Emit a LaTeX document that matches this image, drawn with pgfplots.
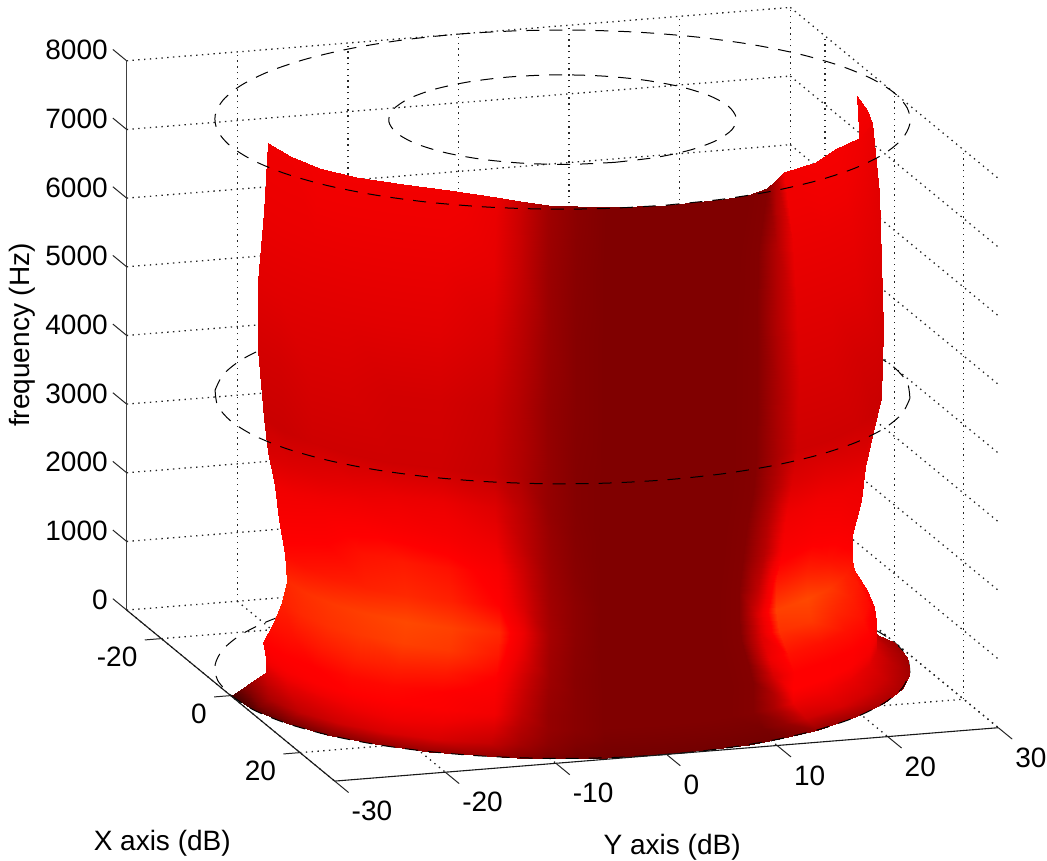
\documentclass[border=0pt]{standalone}
\usepackage{fontspec}
\setmainfont{Liberation Sans}
\usepackage{pgfplots}
\pgfplotsset{compat=1.18}
\begin{document}
\begin{tikzpicture}
\path[use as bounding box] (0,0) rectangle (1047pt,860pt);
\begin{axis}[
  at={(562.5pt,191.1pt)}, anchor=origin,
  x={(3.467pt,-2.85pt)}, y={(11.06pt,0.89pt)}, z={(0pt,0.06866pt)},
  xmin=-30,xmax=30,ymin=-30,ymax=30,zmin=0,zmax=8000,
  clip=false,
  xtick={-20,0,20}, xticklabels={-20,0,20},
  ytick={-30,-20,-10,0,10,20,30}, yticklabels={-30,-20,-10,0,10,20,30},
  ztick={0,1000,2000,3000,4000,5000,6000,7000,8000},
  zticklabels={0,1000,2000,3000,4000,5000,6000,7000,8000},
  scaled z ticks=false,
  major tick length=0pt,
  tick style={draw=none},
  axis line style={draw=none},
  grid=major,
  grid style={color=black!85,line width=1.3pt,dash pattern=on 1.4pt off 4.4pt},
  tick label style={font=\fontsize{28}{30}\selectfont,inner sep=0pt,outer sep=0pt},
  label style={font=\fontsize{28}{30}\selectfont},
  xticklabel style={anchor=east,xshift=-24pt,yshift=-18pt},
  yticklabel style={anchor=west,xshift=17pt,yshift=-30pt},
  zticklabel style={anchor=east,xshift=-19pt,yshift=10.7pt},
  xlabel={X axis (dB)}, ylabel={Y axis (dB)}, zlabel={frequency (Hz)},
  xlabel style={at={(axis cs:45.33,-50.4,0)},anchor=center,rotate=0,sloped=false},
  ylabel style={at={(axis cs:59.7,-8.8,0)},anchor=center,rotate=0,sloped=false},
  zlabel style={at={(axis cs:-60.2,-30,2752)},anchor=center,sloped=false},
  colormap={rimred}{rgb255(0)=(64,0,0); rgb255(20)=(128,0,0); rgb255(50)=(192,0,0); rgb255(70)=(240,0,0); rgb255(80)=(255,0,0); rgb255(90)=(255,40,0); rgb255(100)=(255,80,0)},
  point meta min=0, point meta max=100,
]
% rear arcs, behind the surface
\addplot3[data cs=polar,black,line width=1pt,dash pattern=on 13pt off 10pt,no markers,smooth] coordinates {
(70,30,4000)(80,30,4000)(90,30,4000)(100,30,4000)(110,30,4000)(120,30,4000)(130,30,4000)(140,30,4000)(150,30,4000)(160,30,4000)(170,30,4000)(180,30,4000)(190,30,4000)(200,30,4000)(210,30,4000)(220,30,4000)(230,30,4000)(240,30,4000)(250,30,4000)};
\addplot3[data cs=polar,black,line width=1pt,dash pattern=on 13pt off 10pt,no markers,smooth] coordinates {
(70,30,0)(80,30,0)(90,30,0)(100,30,0)(110,30,0)(120,30,0)(130,30,0)(140,30,0)(150,30,0)(160,30,0)(170,30,0)(180,30,0)(190,30,0)(200,30,0)(210,30,0)(220,30,0)(230,30,0)(240,30,0)(250,30,0)(260,30,0)(270,30,0)};
% surface: azimuth, radius, frequency, colour value
\addplot3[data cs=polar,surf,shader=interp,z buffer=sort,point meta=explicit,mesh/rows=17,mesh/cols=23]
table[row sep=\\,x=t,y=r,z=z,meta=c]{
t r z c\\
-90 30 0 0\\ -80 30 0 8\\ -70 30 0 14\\ -60 30 0 20\\ -50 30 0 28\\ -40 30 0 30\\ -30 30 0 30\\ -25 30 0 24\\ -20 30 0 18\\ -15 30 0 16\\ -10 30 0 16\\ 0 30 0 16\\ 10 30 0 16\\ 15 30 0 16\\ 20 30 0 16\\ 25 30 0 20\\ 30 30 0 30\\ 40 30 0 35\\ 50 30 0 40\\ 60 30 0 40\\ 70 30 0 36\\ 80 30 0 34\\ 90 30 0 34\\
-90 28.5 130 25\\ -80 28.5 130 40\\ -70 28.5 130 50\\ -60 28.5 130 56\\ -50 28.5 130 60\\ -40 28.5 130 60\\ -30 28.5 130 52\\ -25 28.5 130 38\\ -20 28.5 130 26\\ -15 28.5 130 20\\ -10 28.5 130 18\\ 0 28.5 130 18\\ 10 28.5 130 18\\ 15 28.5 130 18\\ 20 28.5 130 18\\ 25 28.5 130 30\\ 30 28.5 130 55\\ 40 28.5 130 60\\ 50 28.5 130 58\\ 60 28.5 130 54\\ 70 28.5 130 48\\ 80 28.5 130 44\\ 90 28.5 130 44\\
-90 26.8 300 60\\ -80 26.8 300 64\\ -70 26.8 300 66\\ -60 26.8 300 70\\ -50 26.9 300 72\\ -40 26.9 300 70\\ -30 27 300 62\\ -25 27 300 44\\ -20 27 300 30\\ -15 27 300 24\\ -10 27 300 20\\ 0 27 300 20\\ 10 27 300 20\\ 15 27 300 20\\ 20 27 300 22\\ 25 27 300 40\\ 30 27 300 68\\ 40 27 300 70\\ 50 27 300 68\\ 60 27.1 300 64\\ 70 27.1 300 60\\ 80 27.1 300 56\\ 90 27.1 300 56\\
-90 26.8 500 74\\ -80 26.8 500 76\\ -70 26.8 500 78\\ -60 26.8 500 80\\ -50 26.9 500 80\\ -40 26.9 500 78\\ -30 27 500 72\\ -25 27 500 50\\ -20 27 500 30\\ -15 27 500 24\\ -10 27 500 20\\ 0 27 500 20\\ 10 27 500 20\\ 15 27 500 20\\ 20 27 500 22\\ 25 27 500 44\\ 30 27 500 80\\ 40 27 500 80\\ 50 27 500 78\\ 60 27.1 500 74\\ 70 27.1 500 70\\ 80 27.1 500 68\\ 90 27.1 500 68\\
-90 27.1 750 80\\ -80 27.1 750 80\\ -70 27.1 750 80\\ -60 27.1 750 82\\ -50 27.1 750 82\\ -40 27.1 750 80\\ -30 27.1 750 76\\ -25 27.1 750 54\\ -20 27.1 750 32\\ -15 27.1 750 24\\ -10 27.1 750 20\\ 0 27.1 750 20\\ 10 27.1 750 20\\ 15 27.1 750 20\\ 20 27.1 750 22\\ 25 27.1 750 60\\ 30 27.1 750 80\\ 40 27.1 750 80\\ 50 27.1 750 80\\ 60 27.1 750 80\\ 70 27.1 750 76\\ 80 27.1 750 74\\ 90 27.1 750 74\\
-90 26.2 1000 84\\ -80 26.2 1000 84\\ -70 26.2 1000 86\\ -60 26.3 1000 88\\ -50 26.3 1000 88\\ -40 26.3 1000 86\\ -30 26.4 1000 80\\ -25 26.4 1000 58\\ -20 26.4 1000 34\\ -15 26.4 1000 24\\ -10 26.4 1000 20\\ 0 26.4 1000 20\\ 10 26.4 1000 20\\ 15 26.4 1000 20\\ 20 26.4 1000 22\\ 25 26.4 1000 68\\ 30 26.4 1000 84\\ 40 26.5 1000 84\\ 50 26.5 1000 84\\ 60 26.5 1000 84\\ 70 26.5 1000 82\\ 80 26.5 1000 80\\ 90 26.5 1000 80\\
-90 25.4 1300 88\\ -80 25.4 1300 90\\ -70 25.4 1300 92\\ -60 25.4 1300 94\\ -50 25.4 1300 96\\ -40 25.4 1300 94\\ -30 25.4 1300 86\\ -25 25.4 1300 64\\ -20 25.4 1300 36\\ -15 25.4 1300 25\\ -10 25.4 1300 20\\ 0 25.4 1300 20\\ 10 25.4 1300 20\\ 15 25.4 1300 20\\ 20 25.4 1300 22\\ 25 25.4 1300 62\\ 30 25.4 1300 92\\ 40 25.4 1300 94\\ 50 25.4 1300 90\\ 60 25.4 1300 88\\ 70 25.4 1300 86\\ 80 25.4 1300 84\\ 90 25.4 1300 84\\
-90 24.9 1600 90\\ -80 24.9 1600 92\\ -70 24.9 1600 94\\ -60 24.9 1600 96\\ -50 25 1600 98\\ -40 25 1600 96\\ -30 25 1600 90\\ -25 25 1600 68\\ -20 25 1600 38\\ -15 25 1600 26\\ -10 25 1600 20\\ 0 25 1600 20\\ 10 25 1600 20\\ 15 25 1600 20\\ 20 25 1600 22\\ 25 25 1600 62\\ 30 25 1600 96\\ 40 25 1600 98\\ 50 25 1600 94\\ 60 25 1600 88\\ 70 25 1600 84\\ 80 25 1600 82\\ 90 25 1600 82\\
-90 25.1 2000 82\\ -80 25.1 2000 84\\ -70 25.1 2000 86\\ -60 25.1 2000 88\\ -50 25.1 2000 90\\ -40 25.1 2000 88\\ -30 25.1 2000 80\\ -25 25 2000 60\\ -20 25 2000 36\\ -15 25 2000 26\\ -10 25 2000 20\\ 0 25 2000 20\\ 10 25 2000 20\\ 15 25 2000 20\\ 20 25 2000 22\\ 25 25 2000 50\\ 30 25 2000 86\\ 40 25 2000 88\\ 50 25 2000 84\\ 60 25 2000 80\\ 70 25 2000 76\\ 80 25 2000 76\\ 90 25 2000 76\\
-90 25.6 2500 76\\ -80 25.6 2500 78\\ -70 25.6 2500 80\\ -60 25.6 2500 84\\ -50 25.6 2500 86\\ -40 25.7 2500 84\\ -30 25.7 2500 76\\ -25 25.7 2500 56\\ -20 25.7 2500 34\\ -15 25.7 2500 24\\ -10 25.7 2500 20\\ 0 25.7 2500 20\\ 10 25.7 2500 20\\ 15 25.7 2500 20\\ 20 25.7 2500 22\\ 25 25.8 2500 46\\ 30 25.8 2500 76\\ 40 25.8 2500 78\\ 50 25.8 2500 76\\ 60 25.8 2500 72\\ 70 25.8 2500 70\\ 80 25.8 2500 70\\ 90 25.8 2500 70\\
-90 26 3000 70\\ -80 26 3000 72\\ -70 26 3000 74\\ -60 26.1 3000 76\\ -50 26.1 3000 76\\ -40 26.1 3000 74\\ -30 26.2 3000 68\\ -25 26.2 3000 50\\ -20 26.2 3000 32\\ -15 26.2 3000 23\\ -10 26.2 3000 20\\ 0 26.2 3000 20\\ 10 26.2 3000 20\\ 15 26.2 3000 20\\ 20 26.2 3000 22\\ 25 26.2 3000 44\\ 30 26.2 3000 70\\ 40 26.2 3000 72\\ 50 26.2 3000 70\\ 60 26.2 3000 68\\ 70 26.1 3000 66\\ 80 26.1 3000 66\\ 90 26.1 3000 66\\
-90 26.6 3500 60\\ -80 26.6 3500 62\\ -70 26.7 3500 64\\ -60 26.7 3500 66\\ -50 26.8 3500 68\\ -40 26.8 3500 68\\ -30 26.9 3500 62\\ -25 26.9 3500 48\\ -20 27 3500 30\\ -15 27 3500 22\\ -10 27 3500 20\\ 0 27 3500 20\\ 10 27 3500 20\\ 15 27 3500 20\\ 20 27 3500 22\\ 25 26.9 3500 42\\ 30 26.9 3500 62\\ 40 26.9 3500 64\\ 50 26.8 3500 62\\ 60 26.8 3500 60\\ 70 26.8 3500 60\\ 80 26.8 3500 60\\ 90 26.8 3500 60\\
-90 27 4000 54\\ -80 27.1 4000 54\\ -70 27.1 4000 56\\ -60 27.2 4000 56\\ -50 27.2 4000 56\\ -40 27.3 4000 56\\ -30 27.3 4000 52\\ -25 27.4 4000 42\\ -20 27.4 4000 30\\ -15 27.4 4000 22\\ -10 27.4 4000 20\\ 0 27.4 4000 20\\ 10 27.5 4000 20\\ 15 27.5 4000 20\\ 20 27.5 4000 22\\ 25 27.5 4000 40\\ 30 27.5 4000 56\\ 40 27.5 4000 56\\ 50 27.5 4000 56\\ 60 27.5 4000 54\\ 70 27.5 4000 54\\ 80 27.5 4000 54\\ 90 27.5 4000 54\\
-90 27.5 5000 58\\ -80 27.5 5000 58\\ -70 27.5 5000 60\\ -60 27.5 5000 60\\ -50 27.5 5000 58\\ -40 27.5 5000 58\\ -30 27.6 5000 54\\ -25 27.6 5000 44\\ -20 27.6 5000 30\\ -15 27.6 5000 23\\ -10 27.6 5000 20\\ 0 27.6 5000 20\\ 10 27.6 5000 20\\ 15 27.6 5000 20\\ 20 27.6 5000 22\\ 25 27.7 5000 42\\ 30 27.7 5000 60\\ 40 27.7 5000 60\\ 50 27.7 5000 58\\ 60 27.7 5000 58\\ 70 27.7 5000 58\\ 80 27.7 5000 58\\ 90 27.7 5000 58\\
-90 27.5 6000 64\\ -80 27.5 6000 64\\ -70 27.5 6000 64\\ -60 27.5 6000 64\\ -50 27.5 6000 64\\ -40 27.5 6000 64\\ -30 27.5 6000 60\\ -25 27.5 6000 48\\ -20 27.6 6000 32\\ -15 27.6 6000 23\\ -10 27.6 6000 20\\ 0 27.7 6000 20\\ 10 27.7 6000 20\\ 15 27.7 6000 20\\ 20 27.6 6000 22\\ 25 27.5 6000 44\\ 30 27.5 6000 64\\ 40 27.5 6000 64\\ 50 27.5 6000 64\\ 60 27.5 6000 62\\ 70 27.5 6000 62\\ 80 27.5 6000 62\\ 90 27.5 6000 62\\
-90 27 7000 68\\ -80 27 7000 68\\ -70 27 7000 68\\ -60 27 7000 68\\ -50 26.8 7000 68\\ -40 26.8 7000 68\\ -30 27 7000 66\\ -25 27.3 7000 52\\ -20 27.6 7000 33\\ -15 27.8 7000 24\\ -10 28 7000 20\\ 0 28.2 7000 20\\ 10 28.2 7000 20\\ 15 28.2 7000 20\\ 20 27.8 7000 22\\ 25 27.4 7000 45\\ 30 27 7000 68\\ 40 27 7000 68\\ 50 27 7000 68\\ 60 27 7000 66\\ 70 27.3 7000 64\\ 80 27 7000 66\\ 90 27 7000 68\\
-90 26.6 8000 70\\ -80 26.5 8000 70\\ -70 26.5 8000 72\\ -60 26.3 8000 72\\ -50 25.5 8000 72\\ -40 25.5 8000 72\\ -30 26.5 8000 68\\ -25 27.5 8000 55\\ -20 28.5 8000 35\\ -15 29 8000 25\\ -10 29.5 8000 20\\ 0 29.8 8000 20\\ 10 30 8000 20\\ 15 29.8 8000 20\\ 20 29 8000 22\\ 25 27.3 8000 45\\ 30 26 8000 72\\ 40 26 8000 74\\ 50 25.5 8000 74\\ 60 26.4 8000 70\\ 70 26.7 8000 68\\ 80 26.5 8000 72\\ 90 26.6 8000 75\\
};
% front arcs and top circles, over the surface
\addplot3[data cs=polar,black,line width=1pt,dash pattern=on 13pt off 10pt,no markers,smooth] coordinates {
(-110,30,4000)(-100,30,4000)(-90,30,4000)(-80,30,4000)(-70,30,4000)(-60,30,4000)(-50,30,4000)(-40,30,4000)(-30,30,4000)(-20,30,4000)(-10,30,4000)(0,30,4000)(10,30,4000)(20,30,4000)(30,30,4000)(40,30,4000)(50,30,4000)(60,30,4000)(70,30,4000)};
\addplot3[data cs=polar,black,line width=1pt,dash pattern=on 13pt off 10pt,no markers,smooth] coordinates {
(-90,30,0)(-80,30,0)(-70,30,0)(-60,30,0)(-50,30,0)(-40,30,0)(-30,30,0)(-20,30,0)(-10,30,0)(0,30,0)(10,30,0)(20,30,0)(30,30,0)(40,30,0)(50,30,0)(60,30,0)(70,30,0)};
\addplot3[data cs=polar,black,line width=1pt,dash pattern=on 13pt off 10pt,no markers,smooth] coordinates {
(0,30,8000)(10,30,8000)(20,30,8000)(30,30,8000)(40,30,8000)(50,30,8000)(60,30,8000)(70,30,8000)(80,30,8000)(90,30,8000)(100,30,8000)(110,30,8000)(120,30,8000)(130,30,8000)(140,30,8000)(150,30,8000)(160,30,8000)(170,30,8000)(180,30,8000)(190,30,8000)(200,30,8000)(210,30,8000)(220,30,8000)(230,30,8000)(240,30,8000)(250,30,8000)(260,30,8000)(270,30,8000)(280,30,8000)(290,30,8000)(300,30,8000)(310,30,8000)(320,30,8000)(330,30,8000)(340,30,8000)(350,30,8000)(360,30,8000)};
\addplot3[data cs=polar,black,line width=1pt,dash pattern=on 13pt off 10pt,no markers,smooth] coordinates {
(0,15,8000)(15,15,8000)(30,15,8000)(45,15,8000)(60,15,8000)(75,15,8000)(90,15,8000)(105,15,8000)(120,15,8000)(135,15,8000)(150,15,8000)(165,15,8000)(180,15,8000)(195,15,8000)(210,15,8000)(225,15,8000)(240,15,8000)(255,15,8000)(270,15,8000)(285,15,8000)(300,15,8000)(315,15,8000)(330,15,8000)(345,15,8000)(360,15,8000)};
% axis frame and tick marks
\draw[black!75,line width=1.4pt] (axis cs:-30,-30,0) -- (axis cs:-30,-30,8000);
\draw[black!90,line width=1.1pt] (axis cs:-30,-30,0) -- (axis cs:30,-30,0) -- (axis cs:30,30,0);
\foreach \zz in {0,1000,...,8000} {\edef\tmp{\noexpand\draw[black!85,line width=1pt] (axis cs:-30,-30,\zz) -- (axis cs:-34,-30,\zz);}\tmp}
\foreach \xx in {-20,0,20} {\edef\tmp{\noexpand\draw[black!85,line width=1pt] (axis cs:\xx,-30,0) -- (axis cs:\xx,-31.5,0);}\tmp}
\foreach \yy in {-30,-20,...,30} {\edef\tmp{\noexpand\draw[black!85,line width=1pt] (axis cs:30,\yy,0) -- (axis cs:34,\yy,0);}\tmp}
\end{axis}
\end{tikzpicture}
\end{document}
